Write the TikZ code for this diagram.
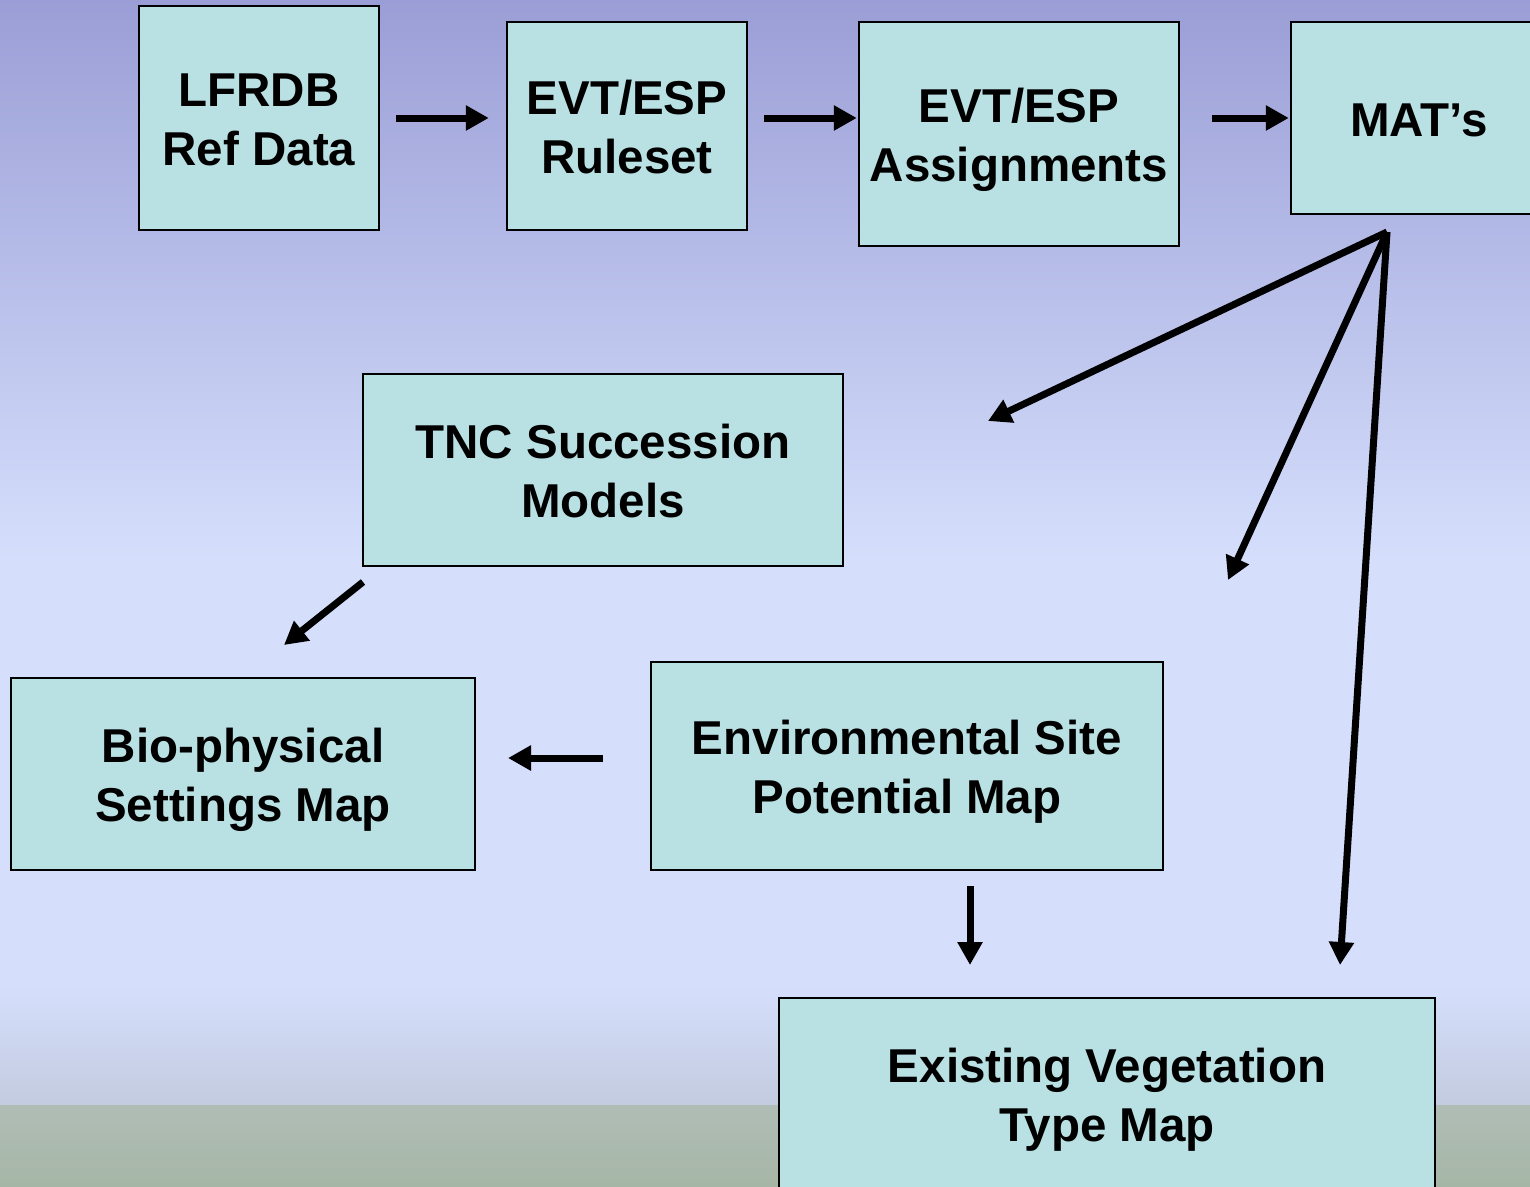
\documentclass[tikz,border=0pt]{standalone}
\usepackage{fontspec}
\setmainfont{Liberation Sans}
\usetikzlibrary{arrows.meta}
\definecolor{boxfill}{HTML}{B9E0E2}
\definecolor{bgtop}{HTML}{9B9ED6}
\definecolor{bgmid}{HTML}{D5DFFC}
\definecolor{bglow}{HTML}{C3CBDF}
\definecolor{bggreen}{HTML}{B0BDB6}
\definecolor{bgbot}{HTML}{A6B6A6}
\newcommand{\boxstrut}{\rule[-11pt]{0pt}{58pt}}
\begin{document}
\begin{tikzpicture}[x=1pt,y=-1pt,
  box/.style={draw=black,line width=2.5pt,fill=boxfill,inner sep=0pt,align=center,
    font=\bfseries\fontsize{47.5}{57}\selectfont},
  arr/.style={line width=7pt,-{Triangle[length=23pt,width=24pt]}}]
\useasboundingbox (0,0) rectangle (1530,1186);
\clip (0,0) rectangle (1530,1186);
% background
\shade[top color=bgtop,bottom color=bgmid] (0,0) rectangle (1530,560);
\fill[bgmid] (0,559) rectangle (1530,986);
\shade[top color=bgmid,bottom color=bglow] (0,985) rectangle (1530,1106);
\shade[top color=bggreen,bottom color=bgbot] (0,1105) rectangle (1530,1186);
% boxes
\node[box,minimum width=240pt,minimum height=224pt] (b1) at (259,118) {\boxstrut LFRDB\\Ref Data\boxstrut};
\node[box,minimum width=240pt,minimum height=208pt] (b2) at (627,126) {\boxstrut EVT/ESP\\Ruleset\boxstrut};
\node[box,minimum width=320pt,minimum height=224pt] (b3) at (1019,134) {\boxstrut EVT/ESP\\Assignments\boxstrut};
\node[box,minimum width=256pt,minimum height=192pt] (b4) at (1419,118) {\boxstrut MAT’s};
\node[box,minimum width=480pt,minimum height=192pt] (tnc) at (603,470) {\boxstrut TNC Succession\\Models\boxstrut};
\node[box,minimum width=464pt,minimum height=192pt] (bio) at (243,774) {\boxstrut Bio-physical\\Settings Map\boxstrut};
\node[box,minimum width=512pt,minimum height=208pt] (env) at (907,766) {\boxstrut Environmental Site\\Potential Map\boxstrut};
\node[box,minimum width=656pt,minimum height=192pt] (evt) at (1107,1094) {\boxstrut Existing Vegetation\\Type Map\boxstrut};
% arrow end points
\coordinate (fan) at (1387,232);
\coordinate (t1) at (988,421);
\coordinate (t2) at (1228,580);
\coordinate (t3) at (1340,965);
\coordinate (s4) at (363,582);
\coordinate (t4) at (284,645);
\coordinate (s5) at (603,758);
\coordinate (t5) at (508,758);
\coordinate (s6) at (970,886);
\coordinate (t6) at (970,965);
% arrows
\draw[arr,shorten <=16pt,shorten >=17pt] (b1.east) -- (b1.east -| b2.west);
\draw[arr,shorten <=16pt,shorten >=1pt] (b2.east |- b1.east) -- (b3.west |- b1.east);
\draw[arr,shorten <=32pt,shorten >=1pt] (b3.east |- b4.west) -- (b4.west);
\draw[arr] (fan) -- (t1);
\draw[arr] (fan) -- (t2);
\draw[arr] (fan) -- (t3);
\draw[arr] (s4) -- (t4);
\draw[arr] (s5) -- (t5);
\draw[arr] (s6) -- (t6);
\end{tikzpicture}
\end{document}
